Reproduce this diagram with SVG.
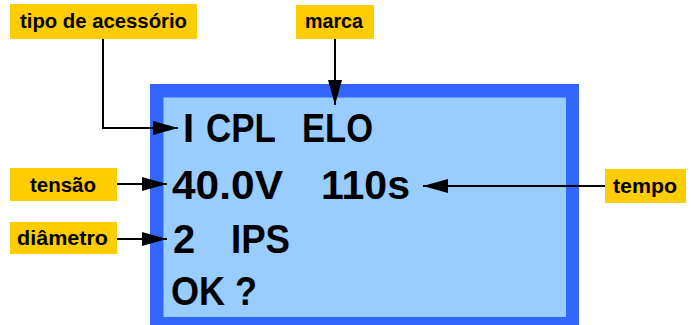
<svg xmlns="http://www.w3.org/2000/svg" width="691" height="325" viewBox="0 0 691 325">
  <style>
    .tag { fill: #FFCC00; }
    .tagtxt { font-family: "Liberation Sans", Arial, sans-serif; font-weight: bold; font-size: 19.5px; fill: #000; text-anchor: middle; }
    .lcd { font-family: "Liberation Sans", Arial, sans-serif; font-weight: bold; font-size: 40px; fill: #000; }
    .wire { fill: none; stroke: #000; stroke-width: 2; }
  </style>
  <defs>
    <marker id="head" markerUnits="userSpaceOnUse" markerWidth="26" markerHeight="16" refX="25" refY="7" orient="auto">
      <path d="M0,0 L25,7 L0,14 z" fill="#000"/>
    </marker>
  </defs>
  <rect width="691" height="325" fill="#fff"/>

  <!-- LCD display -->
  <g id="display">
    <rect x="150" y="84" width="429" height="245" fill="#3366FF"/>
    <rect x="163.5" y="97.5" width="402.5" height="219.5" fill="#99CCFF"/>
    <text class="lcd" x="183" y="142">I</text>
    <text class="lcd" x="206" y="142" textLength="70" lengthAdjust="spacingAndGlyphs">CPL</text>
    <text class="lcd" x="302" y="142" textLength="71" lengthAdjust="spacingAndGlyphs">ELO</text>
    <text class="lcd" x="172" y="199" textLength="111" lengthAdjust="spacingAndGlyphs">40.0V</text>
    <text class="lcd" x="321" y="199" textLength="89" lengthAdjust="spacingAndGlyphs">110s</text>
    <text class="lcd" x="173" y="253">2</text>
    <text class="lcd" x="231" y="253" textLength="59" lengthAdjust="spacingAndGlyphs">IPS</text>
    <text class="lcd" x="171" y="305" textLength="86" lengthAdjust="spacingAndGlyphs">OK ?</text>
  </g>

  <!-- connectors -->
  <g id="connectors">
    <path class="wire" d="M103,35 V128 H178" marker-end="url(#head)"/>
    <path class="wire" d="M335,39 V105" marker-end="url(#head)"/>
    <path class="wire" d="M112,184 H167" marker-end="url(#head)"/>
    <path class="wire" d="M113,239 H167" marker-end="url(#head)"/>
    <path class="wire" d="M605,186 H423" marker-end="url(#head)"/>
  </g>

  <!-- labels -->
  <g id="tipo">
    <rect class="tag" x="10" y="4" width="187" height="35"/>
    <text class="tagtxt" x="103.5" y="28" textLength="167" lengthAdjust="spacingAndGlyphs">tipo de acessório</text>
  </g>
  <g id="marca">
    <rect class="tag" x="296" y="5" width="78" height="34"/>
    <text class="tagtxt" x="334" y="28" textLength="58" lengthAdjust="spacingAndGlyphs">marca</text>
  </g>
  <g id="tensao">
    <rect class="tag" x="10" y="168" width="107" height="33"/>
    <text class="tagtxt" x="63" y="192" textLength="66" lengthAdjust="spacingAndGlyphs">tensão</text>
  </g>
  <g id="diametro">
    <rect class="tag" x="10" y="222" width="107" height="32"/>
    <text class="tagtxt" x="62.5" y="245" textLength="91" lengthAdjust="spacingAndGlyphs">diâmetro</text>
  </g>
  <g id="tempo">
    <rect class="tag" x="605" y="169" width="81" height="34"/>
    <text class="tagtxt" x="645" y="193" textLength="64" lengthAdjust="spacingAndGlyphs">tempo</text>
  </g>
</svg>
